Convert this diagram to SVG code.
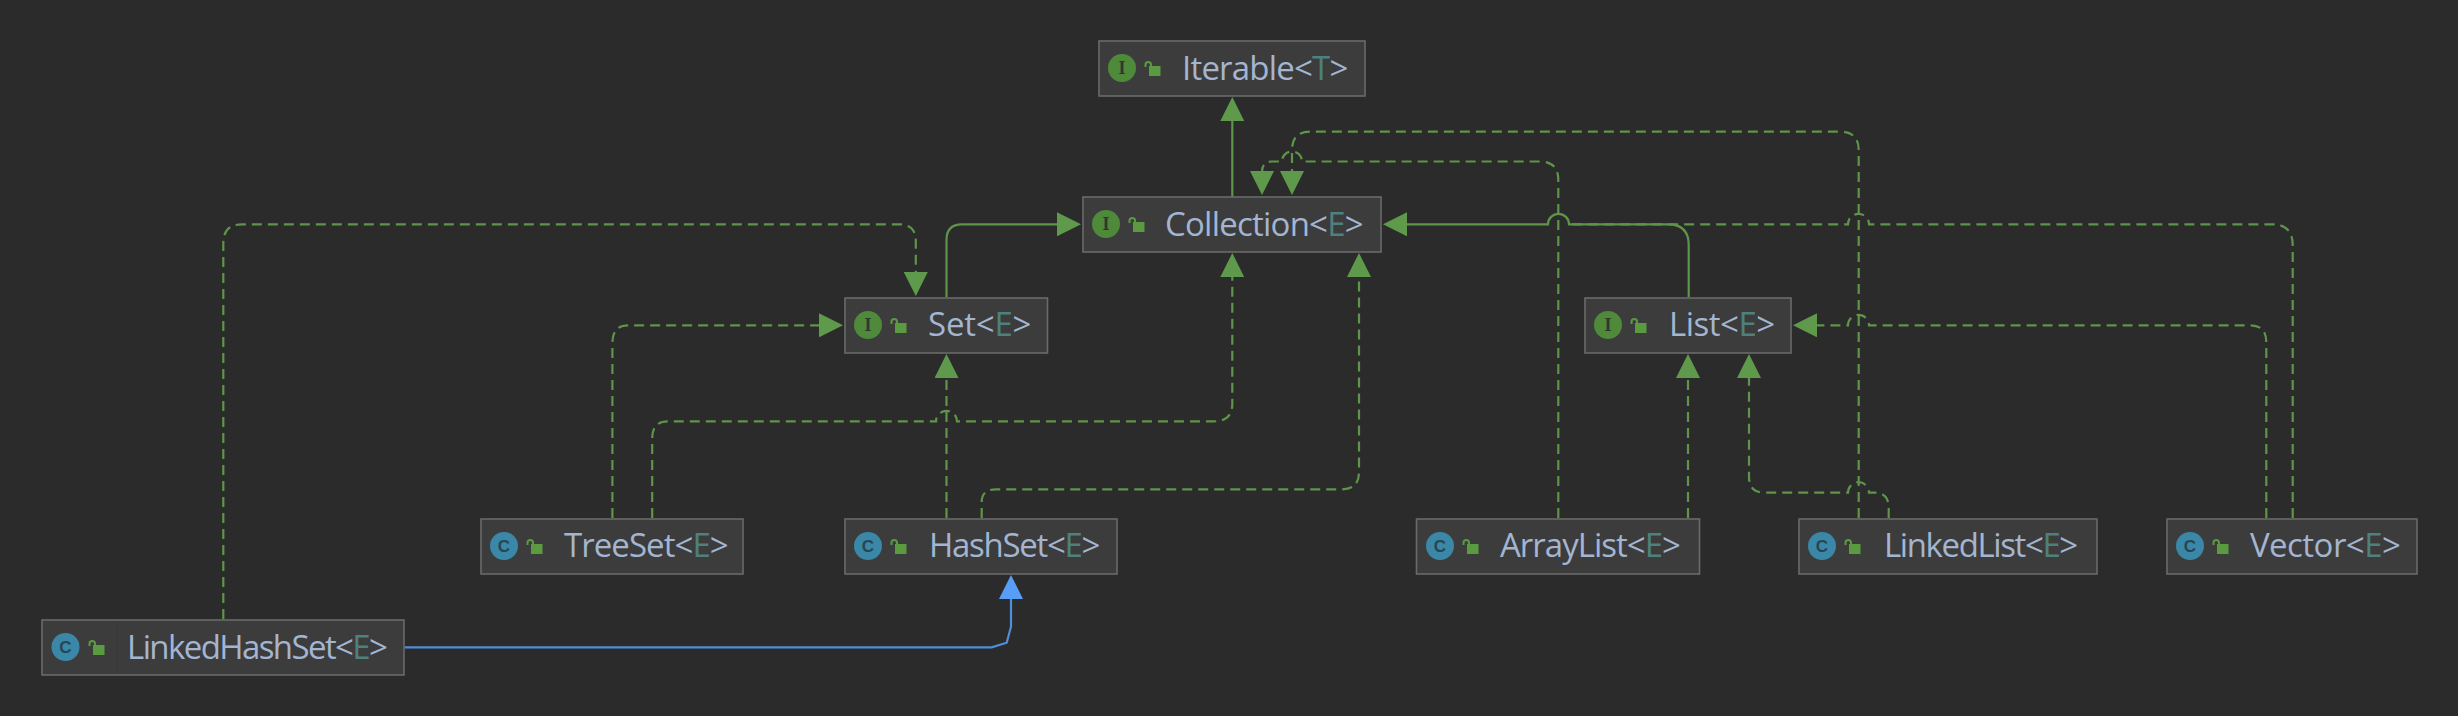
<svg xmlns="http://www.w3.org/2000/svg" width="2458" height="716" viewBox="0 0 2458 716">
<style>
.box{fill:#3c3c3c;stroke:#6a6a6a;stroke-width:1.6}
.lbl{font-family:"Open Sans","Noto Sans",sans-serif;font-size:33px;fill:#a3b5d0}
.tp{fill:#4e807d}
.ii{fill:#4e8a3a}
.ci{fill:#3a87a8}
.ig{font-family:"Liberation Serif",serif;font-weight:bold;font-size:18px;fill:#33352f;text-anchor:middle}
.cg{font-family:"Liberation Sans",sans-serif;font-weight:bold;font-size:17px;fill:#264653;text-anchor:middle}
.lk{fill:#5a9a41}
.sh{fill:none;stroke:#5a9a41;stroke-width:2}
.c{fill:none;stroke:#5d9549;stroke-width:2.2}
.s{marker-end:url(#g)}
.d{stroke-dasharray:10 6;marker-end:url(#g)}
.n{stroke-dasharray:10 6}
.b{fill:none;stroke:#4f8edb;stroke-width:2.2;marker-end:url(#bl)}
</style>
<defs>
<marker id="g" markerUnits="userSpaceOnUse" markerWidth="25" markerHeight="24" viewBox="0 0 25 24" refX="1" refY="12" orient="auto"><path d="M0 0L24 12L0 24Z" fill="#5f9a4c"/></marker>
<marker id="bl" markerUnits="userSpaceOnUse" markerWidth="25" markerHeight="24" viewBox="0 0 25 24" refX="1" refY="12" orient="auto"><path d="M0 0L24 12L0 24Z" fill="#589df6"/></marker>
<g id="lock"><rect x="4" y="8" width="11.500" height="10" class="lk"/><path class="sh" d="M0.500 9V6.700A2.750 2.750 0 0 1 6 6.700V9"/></g>
</defs>
<rect width="2458" height="716" fill="#2b2b2b"/>
<g id="connectors">
<path class="c s" d="M1232.300 197V120"/>
<path class="c d" d="M1558.300 518V180Q1558.300 161.500 1540 161.500H1302A10 10 0 0 0 1282 161.500H1272Q1262 161.500 1262 172"/>
<path class="c d" d="M1858.700 518V150Q1858.700 131.700 1840 131.700H1310Q1292 131.700 1292 150V172"/>
<path class="c s" d="M1688.700 297V245Q1688.700 224.300 1668 224.300H1569A10.500 10.500 0 0 0 1548 224.300H1406"/>
<path class="c n" d="M2292.700 518V245Q2292.700 224.300 2272 224.300H1869A10.500 10.500 0 0 0 1848 224.300H1569"/>
<path class="c d" d="M2266.300 518V342Q2266.300 325.300 2250 325.300H1869A10.500 10.500 0 0 0 1848 325.300H1816"/>
<path class="c d" d="M1688 518V377"/>
<path class="c d" d="M1888.700 518V508Q1888.700 492.700 1875 492.700H1869A10.500 10.500 0 0 0 1848 492.700H1765Q1749 492.700 1749 477V377"/>
<path class="c s" d="M946.500 297V240Q946.500 224.300 962 224.300H1058"/>
<path class="c d" d="M223.300 619V243Q223.300 224.300 242 224.300H899Q915.800 224.300 915.800 241V273"/>
<path class="c d" d="M612.400 518V343Q612.400 325.300 628 325.300H820"/>
<path class="c d" d="M652.200 518V438Q652.200 421.300 668 421.300H936A10.500 10.500 0 0 1 957 421.300H1214Q1232.300 421.300 1232.300 404V276"/>
<path class="c d" d="M946.500 518V377"/>
<path class="c d" d="M981.700 518V502Q981.700 489.300 996 489.300H1342Q1359 489.300 1359 472V276"/>
<path class="b" d="M404.700 647.300H991.700L1006.700 642.700L1011 626.700V598"/>
</g>
<g id="iterable"><rect class="box" x="1099" y="41" width="266" height="55"/><circle class="ii" cx="1122" cy="68" r="14"/><text class="ig" x="1122" y="74">I</text><use href="#lock" x="1145" y="58"/><text class="lbl" x="1182" y="80" letter-spacing="-0.8">Iterable&lt;<tspan class="tp">T</tspan>&gt;</text></g>
<g id="collection"><rect class="box" x="1083" y="197" width="298" height="55"/><circle class="ii" cx="1106" cy="224" r="14"/><text class="ig" x="1106" y="230">I</text><use href="#lock" x="1129" y="214"/><text class="lbl" x="1165" y="236" letter-spacing="-0.77">Collection&lt;<tspan class="tp">E</tspan>&gt;</text></g>
<g id="set"><rect class="box" x="845" y="298" width="202.500" height="55"/><circle class="ii" cx="868" cy="325" r="14"/><text class="ig" x="868" y="331">I</text><use href="#lock" x="891" y="315"/><text class="lbl" x="928" y="336" letter-spacing="-0.2">Set&lt;<tspan class="tp">E</tspan>&gt;</text></g>
<g id="list"><rect class="box" x="1585" y="298" width="206" height="55"/><circle class="ii" cx="1608" cy="325" r="14"/><text class="ig" x="1608" y="331">I</text><use href="#lock" x="1631" y="315"/><text class="lbl" x="1669" y="336" letter-spacing="-0.5">List&lt;<tspan class="tp">E</tspan>&gt;</text></g>
<g id="treeset"><rect class="box" x="481" y="519" width="262" height="55"/><circle class="ci" cx="504" cy="546" r="14"/><text class="cg" x="504" y="552">C</text><use href="#lock" x="527" y="536"/><text class="lbl" x="564" y="557" letter-spacing="-0.95">TreeSet&lt;<tspan class="tp">E</tspan>&gt;</text></g>
<g id="hashset"><rect class="box" x="845" y="519" width="272" height="55"/><circle class="ci" cx="868" cy="546" r="14"/><text class="cg" x="868" y="552">C</text><use href="#lock" x="891" y="536"/><text class="lbl" x="929" y="557" letter-spacing="-1.3">HashSet&lt;<tspan class="tp">E</tspan>&gt;</text></g>
<g id="arraylist"><rect class="box" x="1416.500" y="519" width="283" height="55"/><circle class="ci" cx="1440" cy="546" r="14"/><text class="cg" x="1440" y="552">C</text><use href="#lock" x="1463" y="536"/><text class="lbl" x="1500" y="557" letter-spacing="-1">ArrayList&lt;<tspan class="tp">E</tspan>&gt;</text></g>
<g id="linkedlist"><rect class="box" x="1799" y="519" width="298" height="55"/><circle class="ci" cx="1822" cy="546" r="14"/><text class="cg" x="1822" y="552">C</text><use href="#lock" x="1845" y="536"/><text class="lbl" x="1884" y="557" letter-spacing="-1.4">LinkedList&lt;<tspan class="tp">E</tspan>&gt;</text></g>
<g id="vector"><rect class="box" x="2167" y="519" width="250" height="55"/><circle class="ci" cx="2190" cy="546" r="14"/><text class="cg" x="2190" y="552">C</text><use href="#lock" x="2213" y="536"/><text class="lbl" x="2250" y="557" letter-spacing="-0.55">Vector&lt;<tspan class="tp">E</tspan>&gt;</text></g>
<g id="linkedhashset"><rect class="box" x="42" y="620" width="362" height="55"/><path d="M117.500 621V674" stroke="#383838" stroke-width="1"/><circle class="ci" cx="65.500" cy="647" r="14"/><text class="cg" x="65.500" y="653">C</text><use href="#lock" x="89" y="637"/><text class="lbl" x="127" y="659" letter-spacing="-1.6">LinkedHashSet&lt;<tspan class="tp">E</tspan>&gt;</text></g>
</svg>
